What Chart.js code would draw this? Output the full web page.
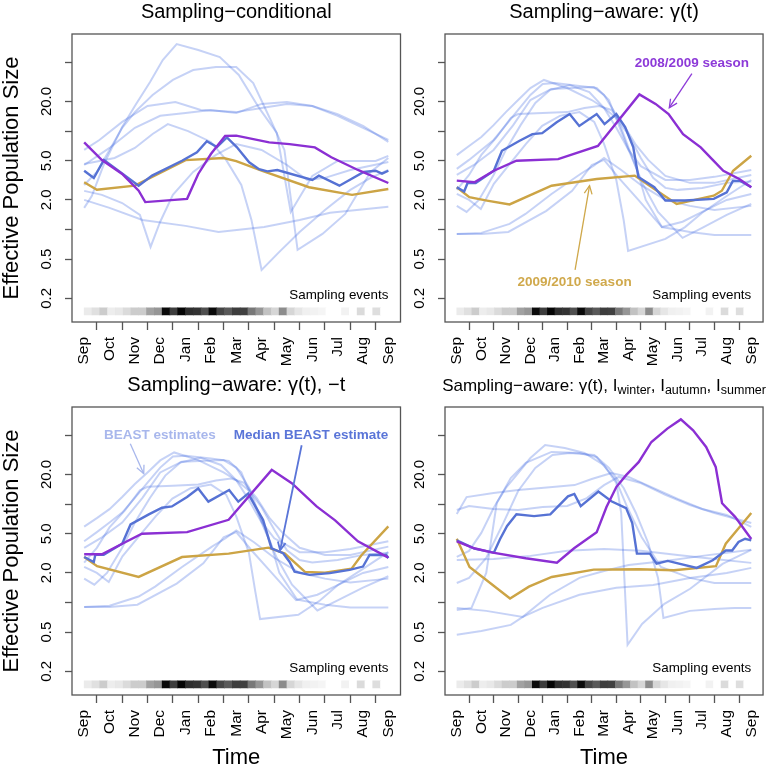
<!DOCTYPE html>
<html><head><meta charset="utf-8">
<script src="https://cdn.jsdelivr.net/npm/chart.js"></script>
<style>
html,body{margin:0;padding:0;background:#fff;}
#wrap{position:relative;width:777px;height:769px;background:#fff;}
canvas{position:absolute;left:0;top:0;}
</style></head><body>
<div id="wrap">
<canvas id="c1" width="777" height="769"></canvas>
<canvas id="c2" width="777" height="769"></canvas>
<canvas id="c3" width="777" height="769"></canvas>
<canvas id="c4" width="777" height="769"></canvas>
</div>
<script>
// ---------- shared axis data ----------
const monthLabels = ['Sep','Oct','Nov','Dec','Jan','Feb','Mar','Apr','May','Jun','Jul','Aug','Sep'];
const yTickValues = [0.2, 0.5, 1, 2, 5, 10, 20, 50];
const yTickLabels = ['0.2', '0.5', '', '2.0', '5.0', '', '20.0', ''];
// relative density of sampling events (0 = none, 1 = max), 39 bins Sep..Sep
const samplingIntensity = [0.08,0.12,0.2,0.07,0.09,0.14,0.2,0.2,0.37,0.41,0.96,0.76,0.98,0.82,0.8,0.69,0.96,0.73,0.65,0.76,0.75,0.53,0.41,0.24,0.16,0.45,0.16,0.1,0.06,0.05,0.04,0,0,0.05,0,0.14,0,0.13,0];

// ---------- Panel 1: Sampling-conditional ----------
const p1Median = [[0,3.96],[0.38,3.34],[0.78,5.1],[2.15,2.79],[2.68,3.53],[3.86,5.0],[4.45,6.08],[4.84,7.9],[5.24,6.89],[5.63,8.63],[6.02,6.89],[6.51,4.82],[6.9,4.1],[7.23,3.9],[7.62,4.03],[9.0,3.19],[9.26,3.53],[10.07,2.79],[11.03,3.84],[11.5,3.96],[11.75,3.7],[12,3.96]];
const p1Season0809 = [[0,7.69],[0.7,5.08],[1.5,3.67],[2.15,2.48],[2.41,1.9],[4.06,2.05],[4.5,3.67],[5.0,5.85],[5.56,8.96],[6.0,9.0],[7.3,7.69],[8.1,7.38],[9.1,6.84],[9.75,5.42],[10.8,4.03],[12,2.97]];
const p1Season0910 = [[0,3.02],[0.5,2.54],[2.0,2.79],[4.0,5.08],[5.5,5.33],[6.0,4.95],[7.0,3.96],[8.87,2.69],[10.57,2.25],[12,2.58]];
const p1Beast = [
  [[0,1.66],[0.3,2.19],[0.8,4.75],[1.5,11.0],[2,18.0],[2.6,31.6],[3.1,52.8],[3.65,76.7],[4.5,66.7],[5.35,56.6],[6.1,37.2],[6.9,17.2],[7.6,9.58],[8.15,1.51],[9,3.51],[10,4.98],[11.5,4.98],[12,5.6]],
  [[0,2.84],[0.5,3.85],[1,6.44],[1.5,10.8],[2,15.6],[2.7,23.3],[3.5,33.1],[4.3,41.8],[5.2,44.8],[6,44.8],[6.67,30.8],[7.32,13.6],[7.9,6.44],[8.42,0.621],[9.4,0.903],[10.3,1.44],[11.3,3.85],[12,5.34]],
  [[0,6.44],[0.6,8.13],[1.5,12.4],[2.5,18.0],[3.6,19.8],[4.6,16.4],[6,15.6],[7,17.2],[8,18.9],[9,18.0],[10,14.9],[11,11.3],[12,7.76]],
  [[0,4.53],[1,6.75],[2,10.8],[3,14.3],[4,15.3],[5,16.4],[6,15.3],[7,18.9],[8,19.8],[9,18.0],[10,14.3],[11,10.8],[12,8.13]],
  [[0,4.64],[1.2,5.34],[2,6.75],[2.7,9.36],[3.3,11.8],[4.1,10.0],[5,7.76],[5.6,5.1],[6.2,2.84],[6.6,1.25],[7,0.389],[7.7,0.593],[8.5,0.946],[9.5,1.58],[10.5,2.53],[11.3,3.35],[12,4.03]],
  [[0,2.47],[0.7,2.25],[1.5,1.86],[2.2,1.41],[2.62,0.666],[3,1.2],[3.5,2.25],[4.3,3.85],[5.2,5.73],[6,7.41],[7,6.44],[8,4.53],[8.8,3.19],[9.5,3.35],[10.5,4.03],[12,4.86]],
  [[0,2.0],[1,1.66],[2.3,1.25],[4,1.09],[5.3,0.946],[7.1,1.06],[8.5,1.25],[9.7,1.48],[12,1.70]]
];

// ---------- Panel 2: Sampling-aware gamma(t) ----------
const p2Median = [[0,2.69],[0.3,2.44],[0.44,2.97],[0.77,2.97],[1.51,3.96],[1.84,6.32],[2.56,7.98],[3.08,9.33],[3.48,9.55],[4.07,12.3],[4.6,14.9],[4.99,11.3],[5.7,14.9],[6.02,11.8],[6.5,14.9],[6.86,11.0],[7.19,6.88],[7.4,3.42],[8.05,2.69],[8.5,1.97],[9.29,1.97],[10.47,2.05],[11,2.39],[11.25,3.12],[11.55,3.12],[12,2.69]];
const p2Season0809 = [[0,3.14],[0.72,3.02],[1.51,3.96],[2.43,5.0],[4.13,5.2],[5.75,7.07],[7.44,23.6],[8.1,18.9],[8.63,14.9],[9.22,9.33],[9.94,6.84],[10.4,5.2],[10.86,3.96],[11.51,3.26],[12,2.69]];
const p2Season0910 = [[0,2.69],[0.51,2.13],[1.23,1.97],[2.15,1.80],[3.86,2.79],[5.7,3.26],[7.25,3.53],[8.05,2.58],[8.96,1.82],[10.47,2.21],[10.8,2.48],[11.26,3.96],[12,5.62]];
const p2Beast = [
  [[0,5.7],[0.5,7.07],[1,8.72],[1.5,11.5],[2,15.6],[2.5,20.7],[3,27.4],[3.55,33.1],[4.5,27.4],[5.5,20.7],[6,17.2],[6.5,13.6],[7,9.14],[7.5,5.34],[8,3.35],[8.5,2.65],[9,2.53],[10,2.65],[11,2.98],[12,3.07]],
  [[0,4.13],[0.5,5.1],[1,6.44],[1.5,8.13],[2,11.5],[2.5,16.4],[3,23.3],[3.5,30.1],[4,30.8],[5,28.7],[5.7,27.4],[6.2,20.7],[6.6,11.5],[7,6.44],[7.5,4.41],[8.5,3.19],[9.5,3.19],[10.5,3.43],[12,4.03]],
  [[0,3.59],[0.7,4.53],[1.5,6.44],[2.3,11.5],[3,20.7],[3.85,26.8],[5.58,28.0],[6,23.3],[6.5,14.6],[7,6.75],[7.35,4.03],[7.7,2.0],[8.36,1.06],[9.5,0.946],[10.5,0.882],[12,0.882]],
  [[0,2.53],[0.5,3.59],[1,5.73],[1.6,8.52],[2.2,13.6],[2.5,14.9],[3.5,15.3],[4.5,15.6],[5.2,17.2],[5.8,18.0],[6.3,16.4],[6.8,11.5],[7.3,7.23],[7.8,5.1],[8.5,3.51],[9.5,2.98],[10.5,2.98],[12,3.59]],
  [[0,2.3],[0.5,2.0],[0.98,1.62],[1.51,2.91],[2.16,4.64],[2.82,7.41],[3.48,11.3],[4.2,14.3],[5,15.6],[5.6,12.4],[6,7.41],[6.5,3.19],[6.8,1.25],[6.98,0.607],[8.5,0.804],[9.3,1.06],[10,1.48],[11,2.19],[12,3.19]],
  [[0,0.903],[1,0.903],[2.1,0.946],[3.65,1.55],[4.7,2.47],[5.5,4.53],[6,5.1],[6.6,3.35],[7.4,2.0],[8.36,1.06],[9.2,1.2],[10,1.51],[11,2.0],[12,2.3]],
  [[0,0.903],[1,0.925],[2.15,1.14],[2.8,1.44],[3.86,2.3],[5.04,3.67],[5.58,4.46],[6,5.34],[6.7,4.03],[7.5,2.84],[8.5,2.0],[9.5,1.74],[10.5,1.58],[12,1.74]],
  [[0,1.74],[0.4,1.51],[0.9,2.0],[1.5,3.59],[2,6.44],[2.6,11.5],[3.2,19.3],[3.8,26.2],[4.6,29.4],[5.4,24.9],[6,17.2],[6.5,10.8],[7,6.44],[7.6,2.84],[8.2,1.51],[9.2,0.823],[10,1.04],[11,1.41],[12,1.82]]
];

// ---------- Panel 3: Sampling-aware gamma(t), -t ----------
const p3Median = [[0,2.9],[0.38,2.58],[0.44,3.06],[0.77,3.06],[1.5,3.96],[1.83,6.22],[2.55,7.87],[3.07,9.18],[3.46,9.48],[4.06,11.8],[4.5,14.4],[4.9,10.6],[5.72,13.9],[6.08,10.6],[6.47,12.8],[7.06,6.89],[7.39,3.56],[7.85,3.17],[8.1,2.6],[8.3,2.06],[8.9,1.91],[9.69,1.99],[10.47,2.15],[11,2.32],[11.26,3.04],[11.92,3.04],[12,2.82]];
const p3Season0809 = [[0,3.09],[0.7,3.09],[1.5,3.96],[2.28,5.0],[4.06,5.2],[5.7,6.93],[7.4,22.3],[8.19,16.3],[9.17,9.48],[9.9,6.84],[10.8,4.19],[12,2.86]];
const p3Season0910 = [[0,2.9],[0.51,2.34],[2.15,1.82],[3.86,2.9],[5.7,3.14],[7.27,3.61],[7.92,3.14],[8.71,2.05],[9.5,2.01],[10.55,2.21],[10.94,3.02],[12,5.94]];
const p3Beast = [
  [[0,5.9],[0.5,7.2],[1,8.9],[1.5,11.8],[2,16.0],[2.5,21.0],[3,27.8],[3.55,33.5],[4.5,28.0],[5.5,21.0],[6,17.5],[6.5,13.8],[7,9.3],[7.5,5.5],[8,3.4],[8.5,2.7],[9,2.55],[10,2.7],[11,3.05],[12,3.2]],
  [[0,4.2],[0.5,5.2],[1,6.5],[1.5,8.2],[2,11.6],[2.5,16.5],[3,23.5],[3.5,30.5],[4,31],[5,29],[5.7,27.5],[6.2,21],[6.6,11.8],[7,6.6],[7.5,4.5],[8.5,3.25],[9.5,3.25],[10.5,3.5],[12,4.2]],
  [[0,3.6],[0.7,4.6],[1.5,6.5],[2.3,11.6],[3,21],[3.85,27],[5.5,28],[6,23.5],[6.5,14.8],[7,6.8],[7.35,4.1],[7.7,2.0],[8.4,1.07],[9.5,0.95],[10.5,0.89],[12,0.89]],
  [[0,2.55],[0.5,3.6],[1,5.8],[1.6,8.6],[2.2,13.8],[2.5,15.0],[3.5,15.4],[4.5,15.8],[5.2,17.4],[5.8,18.2],[6.3,16.5],[6.8,11.6],[7.3,7.3],[7.8,5.2],[8.5,3.6],[9.5,3.05],[10.5,3.05],[12,3.7]],
  [[0,2.3],[0.5,2.0],[0.97,1.62],[1.51,2.95],[2.16,4.7],[2.82,7.5],[3.48,11.4],[4.2,14.5],[5,15.8],[5.6,12.5],[6,7.5],[6.5,3.2],[6.75,1.3],[6.94,0.68],[8.45,0.75],[9.3,1.05],[10,1.5],[11,2.2],[12,3.25]],
  [[0,0.9],[1,0.9],[2.1,0.95],[3.65,1.56],[4.7,2.5],[5.5,4.6],[6,5.2],[6.6,3.4],[7.4,2.0],[8.36,1.06],[9.2,1.2],[10,1.5],[11,2.0],[12,2.3]],
  [[0,0.9],[1,0.93],[2.15,1.15],[2.8,1.45],[3.86,2.3],[5.04,3.7],[5.58,4.5],[6,5.4],[6.7,4.1],[7.5,2.85],[8.5,2.0],[9.5,1.75],[10.5,1.6],[12,1.75]],
  [[0,1.75],[0.4,1.52],[0.9,2.0],[1.5,3.6],[2,6.5],[2.6,11.6],[3.2,19.5],[3.8,26.5],[4.6,29.5],[5.4,25],[6,17.5],[6.5,11],[7,6.5],[7.6,2.85],[8.2,1.52],[9.2,0.83],[10,1.05],[11,1.42],[12,1.85]]
];

// ---------- Panel 4: Sampling-aware gamma(t), I_winter, I_autumn, I_summer ----------
const p4Median = [[0,4.29],[0.72,3.53],[1.51,3.21],[1.76,4.4],[2.05,6.0],[2.43,7.87],[3.15,7.56],[3.81,7.87],[4.53,12.0],[4.79,12.7],[5.05,9.55],[5.77,13.4],[6.3,10.7],[6.9,9.11],[7.15,6.42],[7.34,3.15],[7.87,3.14],[8.14,2.48],[8.6,2.65],[9.78,2.25],[10.43,2.69],[10.96,3.38],[11.22,3.38],[11.48,4.12],[11.75,4.45],[12,4.29]];
const p4Season0809 = [[0,4.19],[0.71,3.56],[1.47,3.21],[2.81,2.82],[4.08,2.54],[4.78,3.56],[5.7,5.17],[6.1,9.33],[6.5,14.9],[6.9,19.7],[7.41,26.7],[7.93,42.8],[8.58,58.5],[9.13,72.6],[9.63,56.2],[10.16,38.1],[10.55,23.9],[10.81,10.2],[11.34,7.43],[12,4.42]];
const p4Season0910 = [[0,4.45],[0.52,2.3],[2.17,1.10],[2.94,1.45],[3.87,1.82],[5.58,2.16],[7.41,2.18],[8.85,2.13],[10.56,2.34],[10.96,3.96],[12,8.11]];
const p4Beast = [
  [[0,7.94],[0.4,11.8],[1.5,13.0],[2.5,13.9],[3.9,14.9],[4.8,15.6],[5.5,18.0],[6.3,20.7],[7,18.9],[8,14.6],[9,11.3],[10,8.93],[11,7.76],[12,5.86]],
  [[0,8.72],[0.5,9.58],[1.5,8.93],[2.5,8.72],[3.5,9.36],[4.5,9.58],[5.3,11.5],[6,15.6],[6.6,18.9],[7.5,16.4],[8.5,12.4],[9.5,9.8],[10.5,8.13],[12,6.44]],
  [[0,2.91],[0.5,3.35],[1,5.1],[1.5,9.14],[2,14.6],[2.5,20.7],[3,29.4],[3.6,39.9],[4.4,37.2],[5.2,33.1],[6,24.9],[6.5,16.4],[6.7,8.13],[6.96,0.372],[7.55,0.607],[8.46,0.97],[9.51,1.38],[10.83,2.47],[12,3.43]],
  [[0,1.58],[0.5,1.78],[1.2,2.84],[1.9,6.44],[2.5,13.6],[3.2,23.3],[3.9,31.6],[4.6,33.1],[5.6,31.6],[6.2,23.3],[6.8,14.6],[7.3,8.13],[7.8,4.03],[8.2,1.78],[8.42,0.698],[9.5,0.823],[10.5,0.862],[11.3,0.882],[12,0.882]],
  [[0,0.842],[0.6,0.882],[1.2,2.0],[1.63,10.3],[2.2,18.4],[2.81,26.2],[3.86,33.9],[5.0,33.1],[5.7,30.1],[6.48,17.6],[6.94,9.36],[7.53,4.64],[8.32,2.3],[9.5,1.78],[10.5,1.58],[12,1.58]],
  [[0,0.882],[1.2,0.823],[2.69,0.715],[3.8,1.2],[5,1.78],[6,2.09],[7,2.41],[8.5,2.65],[10,2.98],[12,3.43]],
  [[0,0.47],[1,0.515],[2.2,0.593],[2.69,0.715],[3.5,0.882],[5,1.2],[6.5,1.41],[8,1.51],[9.5,1.78],[11,2.0],[12,2.25]],
  [[0,2.71],[1.5,2.77],[3,2.98],[4.5,3.35],[6,3.51],[7.5,3.35],[9,3.05],[10.5,2.77],[12,2.53]]
];

// ---------- styling ----------
const FONT = '"Liberation Sans", Arial, Helvetica, sans-serif';
Chart.defaults.font.family = FONT;
const COL_BEAST = 'rgba(65,105,225,0.3)';
const COL_MEDIAN = '#5672d4';
const COL_0809 = '#8b2fd3';
const COL_0910 = '#cca445';
const COL_AXIS = '#555555';
const stripLow = 0.136, stripHigh = 0.160;

const decorPlugin = {
  id: 'panelDecor',
  afterDraw(chart, args, opts) {
    const {ctx, chartArea: a, scales: {x, y}} = chart;
    ctx.save();
    ctx.strokeStyle = COL_AXIS; ctx.lineWidth = 1.3;
    ctx.strokeRect(a.left, a.top, a.right - a.left, a.bottom - a.top);
    // rotated y tick labels
    ctx.fillStyle = '#000';
    ctx.font = '15px ' + FONT;
    yTickValues.forEach((v, i) => {
      const lab = yTickLabels[i];
      if (!lab) return;
      const py = y.getPixelForValue(v);
      ctx.save();
      ctx.translate(a.left - 25, py);
      ctx.rotate(-Math.PI / 2);
      ctx.textAlign = 'center'; ctx.textBaseline = 'middle';
      ctx.fillText(lab, 0, 0);
      ctx.restore();
    });
    // title (supports subscripts)
    const parts = opts.title || [];
    let total = 0;
    parts.forEach(p => { ctx.font = p.size + 'px ' + FONT; p.w = ctx.measureText(p.text).width; total += p.w; });
    let tx = (a.left + a.right) / 2 - total / 2;
    const ty = a.top - 16;
    ctx.textAlign = 'left'; ctx.textBaseline = 'alphabetic'; ctx.fillStyle = '#000';
    parts.forEach(p => { ctx.font = p.size + 'px ' + FONT; ctx.fillText(p.text, tx, ty + (p.dy || 0)); tx += p.w; });
    // sampling events label
    ctx.font = '13.4px ' + FONT; ctx.textAlign = 'right';
    ctx.fillText('Sampling events', x.getPixelForValue(12), y.getPixelForValue(0.196));
    // annotations
    ctx.font = 'bold 13.5px ' + FONT; ctx.textAlign = 'center';
    (opts.notes || []).forEach(n => {
      ctx.fillStyle = n.color;
      ctx.fillText(n.text, x.getPixelForValue(n.x), y.getPixelForValue(n.y));
    });
    (opts.arrows || []).forEach(r => {
      const x0 = x.getPixelForValue(r.from[0]), y0 = y.getPixelForValue(r.from[1]);
      const x1 = x.getPixelForValue(r.to[0]), y1 = y.getPixelForValue(r.to[1]);
      ctx.strokeStyle = r.color; ctx.lineWidth = r.width || 1.3;
      ctx.beginPath(); ctx.moveTo(x0, y0); ctx.lineTo(x1, y1); ctx.stroke();
      const ang = Math.atan2(y1 - y0, x1 - x0), L = 9, s = 0.45;
      ctx.beginPath();
      ctx.moveTo(x1 - L * Math.cos(ang - s), y1 - L * Math.sin(ang - s));
      ctx.lineTo(x1, y1);
      ctx.lineTo(x1 - L * Math.cos(ang + s), y1 - L * Math.sin(ang + s));
      ctx.stroke();
    });
    ctx.restore();
  }
};

function toXY(arr) { return arr.map(p => ({x: p[0], y: p[1]})); }

function makePanel(cfg) {
  const nBins = samplingIntensity.length;
  const datasets = [];
  datasets.push({
    type: 'bar',
    data: samplingIntensity.map((d, i) => ({x: (i + 0.5) * 12 / nBins, y: [stripLow, stripHigh]})),
    backgroundColor: samplingIntensity.map(d => { const g = Math.round(255 * (1 - d)); return 'rgb(' + g + ',' + g + ',' + g + ')'; }),
    borderWidth: 0, barPercentage: 1, categoryPercentage: 1, grouped: false, order: 20
  });
  cfg.beast.forEach(b => datasets.push({type: 'line', data: toXY(b), borderColor: COL_BEAST, borderWidth: 2, pointRadius: 0, tension: 0, fill: false, order: 10}));
  datasets.push({type: 'line', data: toXY(cfg.s0910), borderColor: COL_0910, borderWidth: 2.4, pointRadius: 0, tension: 0, fill: false, order: 3});
  datasets.push({type: 'line', data: toXY(cfg.median), borderColor: COL_MEDIAN, borderWidth: 2.4, pointRadius: 0, tension: 0, fill: false, order: 2});
  datasets.push({type: 'line', data: toXY(cfg.s0809), borderColor: COL_0809, borderWidth: 2.4, pointRadius: 0, tension: 0, fill: false, order: 1});

  new Chart(document.getElementById(cfg.id), {
    type: 'line',
    data: {datasets},
    options: {
      responsive: false, animation: false, devicePixelRatio: 1,
      layout: {padding: cfg.pad},
      plugins: {legend: {display: false}, tooltip: {enabled: false}, title: {display: false},
                panelDecor: {title: cfg.title, notes: cfg.notes, arrows: cfg.arrows}},
      scales: {
        x: {
          type: 'linear', min: -0.48, max: 12.48, bounds: 'data', offset: false,
          afterBuildTicks: s => { s.ticks = monthLabels.map((_, i) => ({value: i})); },
          afterFit: s => { s.height = cfg.hx; },
          ticks: {autoSkip: false, minRotation: 90, maxRotation: 90, padding: 7, color: '#000',
                  font: {size: 15.5}, callback: (v, i) => monthLabels[i]},
          grid: {display: true, drawOnChartArea: false, drawTicks: true, tickLength: 8, tickColor: COL_AXIS, tickWidth: 1.3},
          border: {display: false},
          title: {display: cfg.xTitle, text: 'Time', color: '#000', font: {size: 22, lineHeight: 1}, padding: 0}
        },
        y: {
          type: 'logarithmic', min: 0.115, max: 97, bounds: 'data',
          afterBuildTicks: s => { s.ticks = yTickValues.map(v => ({value: v})); },
          afterFit: s => { s.width = cfg.wy; },
          ticks: {display: false},
          grid: {display: true, drawOnChartArea: false, drawTicks: true, tickLength: 7, tickColor: COL_AXIS, tickWidth: 1.3},
          border: {display: false},
          title: {display: cfg.yTitle, text: 'Effective Population Size', color: '#000', font: {size: 22, lineHeight: 1}, padding: 0}
        }
      }
    },
    plugins: [decorPlugin]
  });
}

makePanel({id: 'c1', median: p1Median, s0809: p1Season0809, s0910: p1Season0910, beast: p1Beast,
  pad: {left: 1, top: 34, right: 376.5, bottom: 387}, wy: 71, hx: 60, yTitle: true, xTitle: false,
  title: [{text: 'Sampling\u2212conditional', size: 20}], notes: [], arrows: []});

makePanel({id: 'c2', median: p2Median, s0809: p2Season0809, s0910: p2Season0910, beast: p2Beast,
  pad: {left: 405, top: 34, right: 3.3, bottom: 387}, wy: 40, hx: 60, yTitle: false, xTitle: false,
  title: [{text: 'Sampling\u2212aware: \u03b3(t)', size: 20}],
  notes: [{text: '2008/2009 season', x: 9.58, y: 45.1, color: '#8d3ad8'},
          {text: '2009/2010 season', x: 4.80, y: 0.268, color: '#d0a94c'}],
  arrows: [{from: [9.58, 38.3], to: [8.66, 17.3], color: '#8d3ad8'},
           {from: [4.82, 0.389], to: [5.41, 2.79], color: '#cfa84a'}]});

makePanel({id: 'c3', median: p3Median, s0809: p3Season0809, s0910: p3Season0910, beast: p3Beast,
  pad: {left: 1, top: 407, right: 376.5, bottom: 0}, wy: 71, hx: 74, yTitle: true, xTitle: true,
  title: [{text: 'Sampling\u2212aware: \u03b3(t), \u2212t', size: 20}],
  notes: [{text: 'BEAST estimates', x: 2.99, y: 45.5, color: '#a8b7ec'},
          {text: 'Median BEAST estimate', x: 8.95, y: 45.5, color: '#5a75d8'}],
  arrows: [{from: [1.82, 41.1], to: [2.35, 20.4], color: '#a8b7ec'},
           {from: [8.58, 39.6], to: [7.73, 3.40], color: '#5a75d8', width: 1.8}]});

makePanel({id: 'c4', median: p4Median, s0809: p4Season0809, s0910: p4Season0910, beast: p4Beast,
  pad: {left: 405, top: 407, right: 3.3, bottom: 0}, wy: 40, hx: 74, yTitle: false, xTitle: true,
  title: [{text: 'Sampling\u2212aware: \u03b3(t), I', size: 17}, {text: 'winter', size: 12.5, dy: 3},
          {text: ', I', size: 17}, {text: 'autumn', size: 12.5, dy: 3},
          {text: ', I', size: 17}, {text: 'summer', size: 12.5, dy: 3}],
  notes: [], arrows: []});
</script>
</body></html>
